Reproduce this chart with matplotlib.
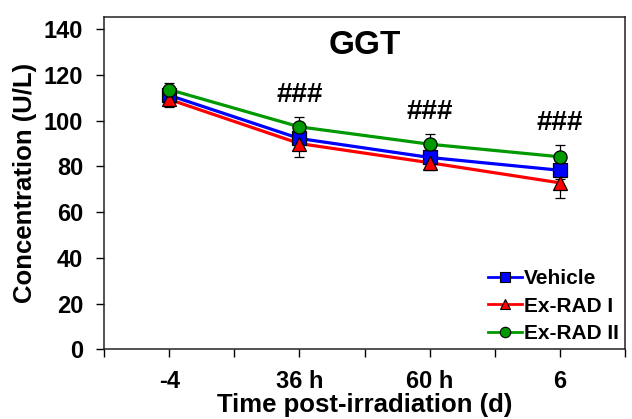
import matplotlib
matplotlib.use("Agg")
import matplotlib.pyplot as plt
import numpy as np

plt.rcParams['font.family'] = ['Liberation Sans', 'DejaVu Sans']
plt.rcParams['font.weight'] = 'bold'

categories = ["-4", "36 h", "60 h", "6"]
vehicle = [111.1, 92.2, 83.9, 78.3]
vehicle_err = [3.0, 4.0, 2.5, 4.0]
exrad1 = [109.3, 90.0, 81.6, 72.8]
exrad1_err = [3.5, 6.0, 3.0, 6.8]
exrad2 = [113.6, 97.3, 89.7, 84.2]
exrad2_err = [3.0, 4.4, 4.4, 5.1]
sig_labels = ["", "###", "###", "###"]

fig = plt.figure(figsize=(6.32, 4.19), dpi=100)
ax = fig.add_axes([104/632, 1-349.3/419, (625-104)/632, (349.3-17.3)/419])

x = np.arange(len(categories))
series = [
    ("Vehicle", vehicle, vehicle_err, "#0000ff", "s"),
    ("Ex-RAD I", exrad1, exrad1_err, "#ff0000", "^"),
    ("Ex-RAD II", exrad2, exrad2_err, "#009900", "o"),
]
for i, (name, vals, errs, col, mk) in enumerate(series):
    ax.errorbar(x, vals, yerr=errs, fmt="none", ecolor="black", elinewidth=0.9,
                capsize=3.5, capthick=0.9, zorder=2 + i)
    ax.plot(x, vals, color=col, lw=2.3, zorder=2 + i)
    ax.plot(x, vals, ls="none", marker=mk, ms=9.5 if mk != "^" else 10,
            mfc=col, mec="black", mew=0.9, zorder=5 + i)
    ax.plot([], [], color=col, lw=2.0, marker=mk, ms=7.5, mfc=col, mec="black",
            mew=0.8, label=name)

for xi, lab, v, e in zip(x, sig_labels, exrad2, exrad2_err):
    if lab:
        ax.text(xi, v + e + 9.5, lab, ha="center", va="center",
                fontsize=20, fontweight="bold")

ax.text(0.5, 0.915, "GGT", transform=ax.transAxes, ha="center", va="center",
        fontsize=24, fontweight="bold")

ax.set_xlim(-0.5, 3.5)
ax.set_ylim(0, 145.2)
ax.set_xticks(x)
ax.set_xticklabels(categories)
ax.set_xticks(np.arange(-0.5, 3.6, 1.0), minor=True)
ax.set_yticks(np.arange(0, 141, 20))
ax.tick_params(axis="x", which="both", direction="out", length=6, width=1, pad=9,
               labelsize=17)
ax.tick_params(axis="y", direction="out", length=6, width=1, pad=9, labelsize=17)
for t in ax.get_xticklabels() + ax.get_yticklabels():
    t.set_fontweight("bold")
for s in ax.spines.values():
    s.set_linewidth(1.1)
    s.set_color("#222222")

ax.set_xlabel("Time post-irradiation (d)", fontsize=18.5, fontweight="bold", labelpad=0)
ax.set_ylabel("Concentration (U/L)", fontsize=18.5, fontweight="bold", labelpad=5)

leg = ax.legend(loc="lower right", frameon=False, handlelength=1.6,
                handletextpad=0.1, labelspacing=0.4, borderaxespad=0.1,
                borderpad=0.2, prop={"weight": "bold", "size": 15})

fig.savefig("out.png", dpi=100)
